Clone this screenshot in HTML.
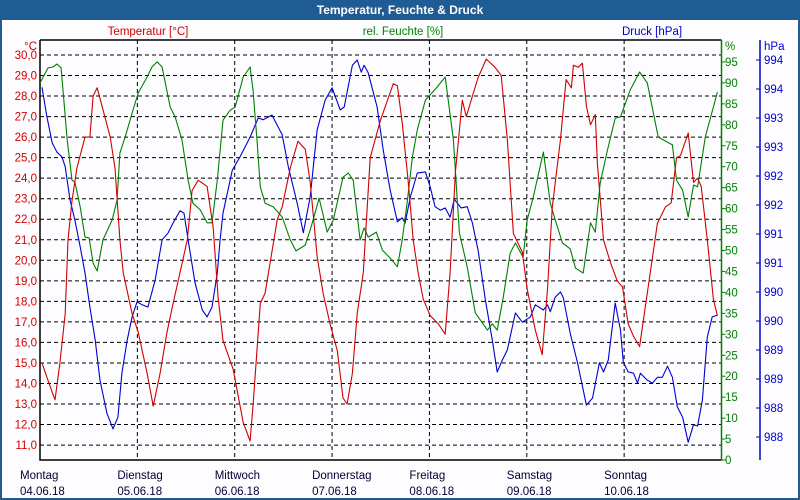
<!DOCTYPE html>
<html><head><meta charset="utf-8"><style>
body{margin:0;background:#fff;}
#wrap{position:relative;width:800px;height:500px;overflow:hidden;font-family:"Liberation Sans",sans-serif;}
svg text{font-family:"Liberation Sans",sans-serif;font-size:11.5px;}
</style></head><body>
<div id="wrap">
<svg id="chart" width="800" height="500">
<rect x="0" y="0" width="800" height="500" fill="#1f5c94"/>
<rect x="2" y="20" width="796" height="478" fill="#fdfdff"/>
<text x="400" y="14" text-anchor="middle" fill="#fff" font-weight="bold" style="font-size:12px">Temperatur, Feuchte &amp; Druck</text>
<text x="148" y="35" text-anchor="middle" fill="#d00000">Temperatur [°C]</text>
<text x="403" y="35" text-anchor="middle" fill="#008000">rel. Feuchte [%]</text>
<text x="652" y="35" text-anchor="middle" fill="#0000d0">Druck [hPa]</text>
<text x="37" y="50" text-anchor="end" fill="#d00000">°C</text>
<text x="725" y="50" fill="#008000">%</text>
<text x="764" y="50" fill="#0000d0">hPa</text>
<g id="grid"></g><g id="axes"></g><g id="series"></g>
</svg>
</div>
<script>
const dayNames=["Montag","Dienstag","Mittwoch","Donnerstag","Freitag","Samstag","Sonntag"];
const dayDates=["04.06.18","05.06.18","06.06.18","07.06.18","08.06.18","09.06.18","10.06.18"];
const tempTicks=[30,29,28,27,26,25,24,23,22,21,20,19,18,17,16,15,14,13,12,11];
const humTicks=[0,5,10,15,20,25,30,35,40,45,50,55,60,65,70,75,80,85,90,95];
const presTicks=[994.25,993.75,993.25,992.75,992.25,991.75,991.25,990.75,990.25,989.75,989.25,988.75,988.25,987.75];
const presTickLabels=["994","994","993","993","992","992","991","991","990","990","989","989","988","988"];
const tempHours=[0.5,1.7,3.7,4.9,6.2,6.9,7.9,9.1,11.1,12.3,13.1,14.1,17.3,18.5,19.7,20.5,22.7,24.2,26.4,27.9,29.6,31.3,32.6,34.5,36.3,37.5,39.0,41.2,42.7,43.9,45.1,47.6,50.1,51.8,52.5,54.3,55.5,58.5,59.7,61.7,63.6,65.4,66.6,68.3,69.8,71.5,73.3,74.7,75.7,77.0,78.2,79.7,81.4,83.9,87.1,88.1,89.3,90.8,92.0,93.2,94.5,96.2,98.2,99.9,101.1,102.4,104.1,105.1,106.6,108.0,110.0,112.2,113.7,115.2,116.7,118.9,120.1,122.1,123.8,125.1,126.3,128.3,129.7,131.0,131.5,132.7,133.7,134.7,135.7,136.9,137.4,138.9,140.6,142.3,143.6,145.0,146.3,147.8,149.7,152.2,154.2,155.6,156.9,157.9,159.8,161.1,162.1,163.0,164.5,166.0,167.0];
const tempValues=[15.0,14.3,13.2,15.0,17.4,21.0,22.9,24.5,26.0,26.0,28.0,28.4,26.0,24.5,21.0,19.4,17.4,16.5,14.5,12.9,14.5,16.5,17.7,19.4,21.0,23.4,23.9,23.6,21.6,18.2,16.1,14.7,12.1,11.2,12.9,17.9,18.4,22.0,22.6,24.5,25.8,25.4,23.8,20.2,18.4,16.9,15.6,13.3,13.0,14.5,17.4,19.4,25.0,26.8,28.6,28.5,26.7,23.8,21.0,19.4,18.1,17.3,16.9,16.4,19.4,24.3,27.8,27.0,28.0,28.9,29.8,29.4,29.0,25.9,21.3,20.4,18.6,16.6,15.4,18.6,22.6,25.9,28.8,28.4,29.5,29.4,29.6,27.5,26.6,27.1,24.7,21.0,19.9,19.0,18.7,16.9,16.3,15.8,18.4,21.8,22.6,22.8,25.0,25.1,26.2,23.8,24.0,23.6,21.0,18.1,17.3];
const humHours=[0,2.0,3.2,4.2,5.2,6.7,7.9,8.6,9.9,11.1,12.1,13.1,14.1,15.5,17.8,19.0,19.7,21.0,22.7,24.2,26.4,27.6,28.9,30.1,32.1,33.3,35.0,36.5,37.7,39.5,41.2,42.4,43.7,45.1,46.9,48.1,50.1,51.8,52.5,53.5,54.3,55.5,57.5,59.7,61.7,63.1,65.4,66.6,67.8,68.8,70.8,72.3,74.7,76.0,77.2,78.9,79.9,80.9,82.9,84.4,86.3,88.1,89.3,90.5,91.8,93.0,95.0,97.9,99.9,101.9,103.4,105.3,107.3,110.3,111.5,112.7,114.2,115.9,117.2,119.1,120.1,121.6,124.1,125.8,127.0,128.8,130.7,132.0,133.9,135.7,136.9,138.1,139.9,141.8,143.1,145.5,147.8,149.7,152.4,155.9,156.9,158.4,159.8,161.1,162.1,164.0,167.0];
const humValues=[90.0,93.6,93.8,94.5,93.6,76.4,66.8,66.3,60.4,53.2,53.0,47.0,45.1,52.5,57.3,62.1,73.3,77.1,82.8,87.6,91.4,93.8,95.0,93.8,84.2,81.9,76.4,66.8,61.3,59.7,56.6,56.6,66.8,81.1,83.5,84.2,91.4,93.8,88.3,76.4,65.2,61.3,60.4,58.0,52.5,49.9,51.3,54.9,58.9,62.5,54.4,57.3,67.5,68.5,66.8,52.5,55.4,53.2,54.4,50.1,48.2,46.1,52.5,61.3,72.3,78.8,85.9,89.0,91.4,76.4,54.2,46.1,35.1,31.0,32.5,31.0,38.9,49.4,51.8,48.4,57.3,62.8,73.5,61.3,57.3,51.8,50.4,45.8,44.6,56.6,54.4,66.1,74.0,81.6,81.9,88.3,92.6,90.0,77.1,75.2,66.8,64.4,58.0,65.6,65.2,77.1,87.8];
const presHours=[0.5,1.7,3.0,4.2,5.4,6.2,7.4,8.6,9.9,11.1,12.3,13.6,14.8,16.5,18.0,19.2,20.2,21.5,22.7,23.9,25.2,26.6,28.4,30.1,31.6,32.8,34.5,35.5,36.5,38.2,40.0,41.2,42.4,43.7,44.4,45.1,47.4,49.3,51.8,53.8,55.0,57.2,59.7,61.2,63.4,64.9,66.6,68.3,70.3,72.0,74.0,75.0,77.0,78.2,79.2,79.9,80.9,83.1,84.6,86.3,88.1,89.3,90.0,91.3,93.0,95.0,96.2,97.4,98.7,99.9,101.1,102.1,103.8,105.3,106.6,108.0,109.8,111.5,112.7,114.0,115.2,117.2,118.9,120.9,122.1,124.1,125.1,125.8,127.0,128.3,129.0,130.7,132.5,134.7,136.2,137.9,138.9,140.1,141.8,143.1,143.8,145.0,146.3,147.3,148.0,149.7,151.0,152.2,153.4,154.7,155.9,157.1,158.4,159.8,161.1,162.1,163.3,164.5,165.7,167.0];
const presValues=[993.78,993.27,992.82,992.66,992.58,992.41,991.84,991.49,991.03,990.58,989.99,989.42,988.73,988.16,987.89,988.09,988.85,989.42,989.82,990.08,990.03,989.99,990.46,991.15,991.27,991.44,991.65,991.61,991.15,990.41,989.94,989.82,989.99,990.58,991.15,991.61,992.35,992.58,992.92,993.25,993.22,993.30,992.96,992.41,991.78,991.27,991.89,993.04,993.56,993.77,993.39,993.44,994.16,994.25,994.04,994.16,994.03,993.44,992.70,992.01,991.46,991.53,991.44,991.89,992.30,992.32,992.06,991.72,991.66,991.70,991.54,991.85,991.70,991.72,991.44,990.97,990.11,989.42,988.87,989.08,989.25,989.89,989.73,989.82,990.03,989.94,990.03,989.91,990.16,990.25,990.15,989.54,989.03,988.30,988.42,989.03,988.87,989.08,990.06,989.59,989.04,988.87,988.85,988.68,988.85,988.73,988.68,988.78,988.78,988.97,988.78,988.27,988.09,987.66,987.96,987.94,988.39,989.47,989.82,989.85];

const NS="http://www.w3.org/2000/svg";
const X0=40,X1=721.5,Y0=40,Y1=460;
function xScale(h){return X0+(X1-X0)*h/168;}
function yTemp(t){return 55+(30-t)*20.53;}
function yHum(p){return 460-p*4.19;}
function yPres(p){return 60+(994.25-p)*58;}
function mk(tag,attrs,parent){const e=document.createElementNS(NS,tag);for(const k in attrs)e.setAttribute(k,attrs[k]);parent.appendChild(e);return e;}
const grid=document.getElementById('grid'),axes=document.getElementById('axes'),series=document.getElementById('series');

tempTicks.forEach(t=>{
  const y=yTemp(t);
  const g=mk('line',{x1:X0,x2:X1,y1:y,y2:y,stroke:'#000','stroke-dasharray':'4,3','stroke-width':1},grid);
  
  
  const tx=mk('text',{x:37,y:y+4,'text-anchor':'end',fill:'#d00000'},axes);
  tx.textContent=t.toFixed(1).replace('.',',');
  
  
});
for(let d=0;d<7;d++){
  const x=xScale(d*24);
  if(d>0){
    const v=mk('line',{x1:x,x2:x,y1:Y0,y2:Y1,stroke:'#000','stroke-dasharray':'4,3','stroke-width':1},grid);
    
    
  }
  const n=mk('text',{x:x-20,y:479,fill:'#000033'},axes);
  n.textContent=dayNames[d];
  
  
  const dt=mk('text',{x:x-20,y:495,fill:'#000033'},axes);
  dt.textContent=dayDates[d];
  
  
}
humTicks.forEach(p=>{
  const y=yHum(p);
  const tk=mk('line',{x1:X1,x2:X1+4,y1:y,y2:y,stroke:'#008000'},axes);
  
  
  const tx=mk('text',{x:725,y:y+4,fill:'#008000'},axes);
  tx.textContent=p;
  
  
});
presTicks.forEach((p,i)=>{
  const y=yPres(p);
  const tk=mk('line',{x1:760,x2:756,y1:y,y2:y,stroke:'#0000d0'},axes);
  
  
  const tx=mk('text',{x:764,y:y+4,fill:'#0000d0'},axes);
  tx.textContent=presTickLabels[i];
  
  
});
const a1=mk('path',{d:`M${X0},${Y0}H${X1}M${X0},${Y0}V${Y1}H${X1}`,stroke:'#000',fill:'none','stroke-width':1.5},axes);


const a2=mk('line',{x1:X1,x2:X1,y1:Y0,y2:Y1,stroke:'#008000','stroke-width':1.5},axes);


const a3=mk('line',{x1:760,x2:760,y1:Y0,y2:Y1,stroke:'#0000d0','stroke-width':1.5},axes);



function line(hours,vals,yf,color,name){
  const d=hours.map((h,i)=>(i?'L':'M')+xScale(h).toFixed(1)+','+yf(vals[i]).toFixed(1)).join('');
  const p=mk('path',{d:d,stroke:color,fill:'none','stroke-width':1.1,'stroke-linejoin':'round'},series);
  
  
}
line(presHours,presValues,yPres,'#0000d0','pressure-line');
line(humHours,humValues,yHum,'#008000','humidity-line');
line(tempHours,tempValues,yTemp,'#d00000','temperature-line');
</script>
</body></html>
